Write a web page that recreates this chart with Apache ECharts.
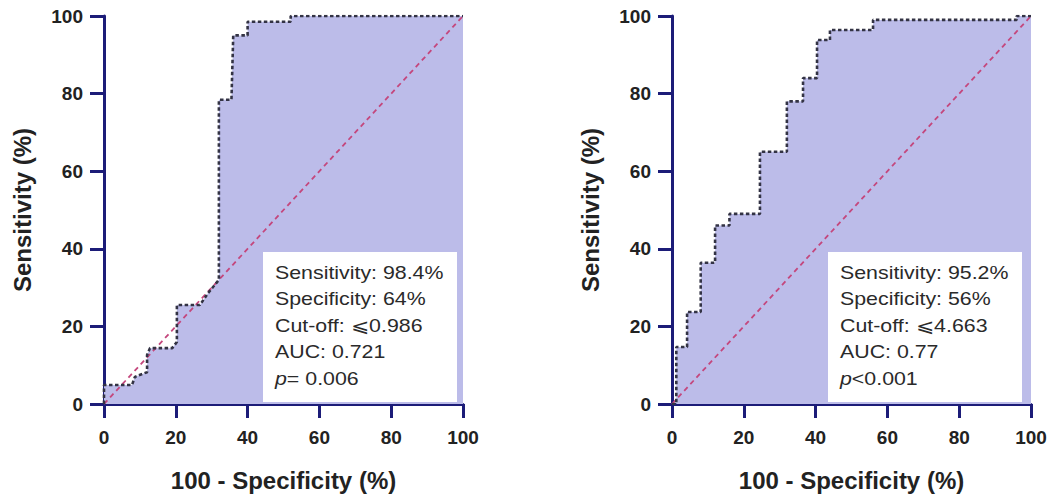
<!DOCTYPE html>
<html>
<head>
<meta charset="utf-8">
<script src="https://cdn.jsdelivr.net/npm/echarts@6/dist/echarts.min.js"></script>
<style>
  html, body { margin: 0; padding: 0; background: #fff; }
  #main { width: 1055px; height: 497px; }
</style>
</head>
<body>
<div id="main"></div>
<script>
// ROC curve corners, left panel (100 - specificity, sensitivity)
var rocLeftX = [0, 0, 7.8, 8.6, 12, 12, 12.8, 19, 20.3, 20.3, 26.7, 29, 32, 32, 35.5, 36, 40, 40, 52, 52, 100];
var rocLeftY = [0, 4.9, 4.9, 7, 8.2, 12.6, 14.4, 14.4, 16, 25.5, 25.5, 28.6, 32, 78.4, 78.4, 95, 95, 98.5, 98.5, 100, 100];

// ROC curve corners, right panel
var rocRightX = [0, 1.2, 1.2, 4.2, 4.2, 8, 8, 12, 12, 16, 16, 24.5, 24.5, 32, 32, 36.5, 36.5, 40.4, 40.4, 44, 44, 56, 56, 96, 96, 100];
var rocRightY = [0, 0, 14.7, 14.7, 23.7, 23.7, 36.4, 36.4, 46, 46, 49, 49, 65, 65, 78, 78, 84, 84, 93.8, 93.8, 96.4, 96.4, 99, 99, 100, 100];

var refLine = [[0, 0], [100, 100]];
var axisTicks = [0, 20, 40, 60, 80, 100];

var statsLeft = ["Sensitivity: 98.4%", "Specificity: 64%", "Cut-off: \u2A7D0.986", "AUC: 0.721"];
var pLeft = ["p", "= 0.006"];
var statsRight = ["Sensitivity: 95.2%", "Specificity: 56%", "Cut-off: \u2A7D4.663", "AUC: 0.77"];
var pRight = ["p", "<0.001"];

var navy = "#1c1c78";
var fillColor = "#bcbce9";
var font = "Liberation Sans";

function pairs(xs, ys) {
  return xs.map(function (x, i) { return [x, ys[i]]; });
}

function makeX(idx) {
  return {
    type: "value", gridIndex: idx, min: axisTicks[0], max: axisTicks[axisTicks.length - 1], interval: 20,
    name: "100 - Specificity (%)", nameLocation: "middle", nameGap: 64,
    nameTextStyle: { fontFamily: font, fontWeight: "bold", fontSize: 24, color: "#222" },
    axisLine: { show: true, lineStyle: { color: navy, width: 3 } },
    axisTick: { show: true, length: 14, lineStyle: { color: navy, width: 3 } },
    axisLabel: { margin: 24, fontFamily: font, fontWeight: "bold", fontSize: 19, color: "#222" },
    splitLine: { show: false }
  };
}

function makeY(idx) {
  return {
    type: "value", gridIndex: idx, min: 0, max: 100, interval: 20,
    name: "Sensitivity (%)", nameLocation: "middle", nameGap: 70,
    nameTextStyle: { fontFamily: font, fontWeight: "bold", fontSize: 24, color: "#222" },
    axisLine: { show: true, lineStyle: { color: navy, width: 3 } },
    axisTick: { show: true, length: 14, lineStyle: { color: navy, width: 3 } },
    axisLabel: { margin: 21, fontFamily: font, fontWeight: "bold", fontSize: 19, color: "#222" },
    splitLine: { show: false }
  };
}

function makeSeries(idx, xs, ys) {
  return [
    {
      type: "line", xAxisIndex: idx, yAxisIndex: idx, data: pairs(xs, ys),
      showSymbol: false, silent: true, z: 1,
      lineStyle: { width: 0 },
      areaStyle: { color: fillColor, opacity: 1 }
    },
    {
      type: "line", xAxisIndex: idx, yAxisIndex: idx, data: refLine,
      showSymbol: false, silent: true, z: 2,
      lineStyle: { color: "#c4477d", width: 1.8, type: [5, 4] }
    },
    {
      type: "line", xAxisIndex: idx, yAxisIndex: idx, data: pairs(xs, ys),
      showSymbol: false, silent: true, z: 3,
      lineStyle: { color: "#333344", width: 2.6, type: [3.5, 2.5] }
    }
  ];
}

// white stats box; the original text is drawn a bit wide, so stretch it horizontally
function statsBox(x0, lines, pPart) {
  var txt = lines.join("\n") + "\n{i|" + pPart[0] + "}" + pPart[1];
  return [
    { type: "rect", z: 100, shape: { x: x0, y: 252, width: 194, height: 150 }, style: { fill: "#ffffff" } },
    {
      type: "text", z: 101, x: x0 + 12, y: 259, scaleX: 1.22, scaleY: 1,
      style: {
        text: txt, fill: "#2a2a2a", font: "17.5px " + font, lineHeight: 26.5,
        rich: { i: { fontStyle: "italic", fontFamily: font, fontSize: 17.5, fill: "#2a2a2a", lineHeight: 26.5 } }
      }
    }
  ];
}

var chart = echarts.init(document.getElementById("main"), null, { renderer: "svg" });
chart.setOption({
  animation: false,
  backgroundColor: "#ffffff",
  grid: [
    { left: 104, top: 16, width: 359, height: 388 },
    { left: 672, top: 16, width: 359, height: 388 }
  ],
  xAxis: [makeX(0), makeX(1)],
  yAxis: [makeY(0), makeY(1)],
  series: makeSeries(0, rocLeftX, rocLeftY).concat(makeSeries(1, rocRightX, rocRightY)),
  graphic: { elements: statsBox(263, statsLeft, pLeft).concat(statsBox(828, statsRight, pRight)) }
});
</script>
</body>
</html>
